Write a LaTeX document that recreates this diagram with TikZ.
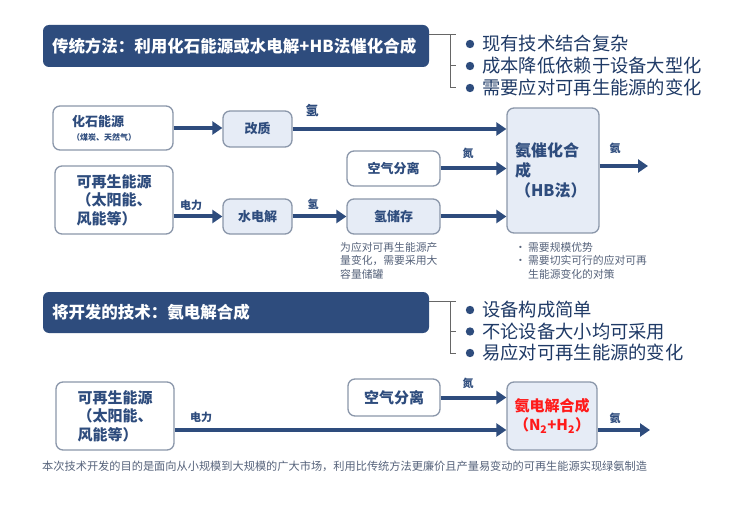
\documentclass[tikz,border=0pt]{standalone}
\usepackage{fontspec}
\setmainfont{Noto Sans CJK SC}
\usepackage{xcolor}
\usepackage{tikz}
\usetikzlibrary{arrows.meta, positioning, calc}

\definecolor{navy}{HTML}{2E4C7D}
\definecolor{boxline}{HTML}{8B97AA}
\definecolor{paleblue}{HTML}{E6ECF6}
\definecolor{notegray}{HTML}{56637B}
\definecolor{itemblue}{HTML}{1F3A66}
\definecolor{redtext}{HTML}{FF1A1A}

\begin{document}
\begin{tikzpicture}[x=1pt, y=-1pt,
    header/.style={fill=navy, rounded corners=6pt, text=white, font=\fontsize{16.5}{19}\selectfont\bfseries, inner xsep=9pt, align=left, minimum width=386pt, text width=368pt},
    proc/.style={draw=boxline, line width=1.3pt, rounded corners=7pt, fill=white, text=navy, font=\fontsize{13}{16}\selectfont\bfseries, align=center, inner sep=0pt},
    procblue/.style={proc, fill=paleblue},
    flow/.style={-{Triangle[length=10pt, width=13pt]}, line width=4pt, navy},
    tag/.style={text=navy, font=\fontsize{11}{13}\selectfont\bfseries, inner sep=0pt},
    item/.style={anchor=west, text=itemblue, font=\fontsize{18.3}{21}\selectfont, inner sep=0pt},
    note/.style={text=notegray, font=\fontsize{10.8}{13.5}\selectfont, align=left, inner sep=0pt, anchor=north west},
    bracket/.style={draw=black!60, line width=1pt}
]

\fill[white] (0,0) rectangle (753,508);
\useasboundingbox (0,0) rectangle (753,508);

% Traditional method
\node[header, minimum height=42pt] (title1) at (236,46) {传统方法：利用化石能源或水电解+HB法催化合成};

\draw[bracket] (title1.east |- 0,35) -- (456,35);
\draw[bracket] (450,35) -- (450,88) -- (456,88);
\draw[bracket] (450,66) -- (456,66);
\foreach \t [count=\i] in {现有技术结合复杂, 成本降低依赖于设备大型化, 需要应对可再生能源的变化} {
    \node[item] (adv\i) at (482,22+22*\i) {\t};
    \fill[navy] ($(adv\i.west)+(-12,0)$) circle (4.2pt);
}

% Row 1 and 2 boxes
\node[proc, minimum width=120pt, minimum height=44pt, align=left, text width=82pt] (fossil) at (113,128)
    {化石能源\\[-2pt]{\fontsize{8}{10}\selectfont （煤炭、天然气）}};
\node[procblue, minimum width=69pt, minimum height=36pt] (reform) at (257.5,129) {改质};
\node[procblue, minimum width=92pt, minimum height=125pt, align=left, text width=76pt,
      font=\fontsize{16}{20}\selectfont\bfseries] (hb) at (553,170.5) {氨催化合\\成\\（HB法）};
\node[proc, minimum width=93pt, minimum height=35pt] (air1) at (393.5,168.5) {空气分离};
\node[proc, minimum width=118pt, minimum height=68pt, align=left, text width=75pt,
      font=\fontsize{15}{18.5}\selectfont\bfseries] (renew1) at (114,200) {可再生能源\\（太阳能、\\风能等）};
\node[procblue, minimum width=69pt, minimum height=35pt] (elec) at (257.5,216.5) {水电解};
\node[procblue, minimum width=93pt, minimum height=35pt] (store) at (393.5,216.5) {氢储存};

\draw[flow] (fossil.east) -- (fossil.east -| reform.west);
\draw[flow] (reform.east) -- (reform.east -| hb.west);
\draw[flow] (air1.east) -- (air1.east -| hb.west);
\draw[flow] (store.east) -- (store.east -| hb.west);
\draw[flow] (elec.west -| renew1.east) -- (elec.west);
\draw[flow] (elec.east) -- (store.west);
\coordinate (nh3a) at (648,166);
\draw[flow] (hb.east |- nh3a) -- (nh3a);

\node[tag, font=\fontsize{13}{15}\selectfont\bfseries] (h2a) at (312,111) {氢};
\node[tag] (n2a) at (468,153) {氮};
\node[tag] (pwa) at (191,205) {电力};
\node[tag] (h2b) at (313,204) {氢};
\node[tag] (nh3lab) at (615,148) {氨};

\node[note] (storenote) at (340,242) {为应对可再生能源产\\量变化，需要采用大\\容量储罐};
\node[note] (hbnote) at (515,242) {\makebox[13pt][l]{•}需要规模优势\\\makebox[13pt][l]{•}需要切实可行的应对可再\\\hspace*{13pt}生能源变化的对策};

% Developed method
\node[header, minimum height=41pt] (title2) at (236,312.5) {将开发的技术：氨电解合成};

\draw[bracket] (title2.east |- 0,301) -- (456,301);
\draw[bracket] (450,301) -- (450,353) -- (456,353);
\draw[bracket] (450,331) -- (456,331);
\foreach \t [count=\i] in {设备构成简单, 不论设备大小均可采用, 易应对可再生能源的变化} {
    \node[item] (new\i) at (482,288.5+21.5*\i) {\t};
    \fill[navy] ($(new\i.west)+(-12,0)$) circle (4.2pt);
}

% Row 3
\node[proc, minimum width=118pt, minimum height=68pt, align=left, text width=75pt,
      font=\fontsize{15}{18.5}\selectfont\bfseries] (renew2) at (115,416) {可再生能源\\（太阳能、\\风能等）};
\node[proc, minimum width=92pt, minimum height=37pt, font=\fontsize{15}{18}\selectfont\bfseries] (air2) at (394,397.5) {空气分离};
\node[procblue, minimum width=90pt, minimum height=68pt, text=redtext,
      font=\fontsize{15}{19}\selectfont\bfseries] (echem) at (552,416) {氨电解合成\\（N\textsubscript{2}+H\textsubscript{2}）};

\draw[flow] (air2.east) -- (air2.east -| echem.west);
\draw[flow] ($(renew2.east)+(0,14)$) -- ($(echem.west)+(0,14)$);
\coordinate (nh3b) at (650,430);
\draw[flow] (echem.east |- nh3b) -- (nh3b);

\node[tag] (n2b) at (468,383) {氮};
\node[tag] (pwb) at (201,417) {电力};
\node[tag] (nh3labb) at (615,418) {氨};

\node[text=notegray, font=\fontsize{11.2}{13}\selectfont, anchor=west, inner sep=0pt] (footer) at (42,466)
    {本次技术开发的目的是面向从小规模到大规模的广大市场，利用比传统方法更廉价且产量易变动的可再生能源实现绿氨制造};

\end{tikzpicture}
\end{document}
